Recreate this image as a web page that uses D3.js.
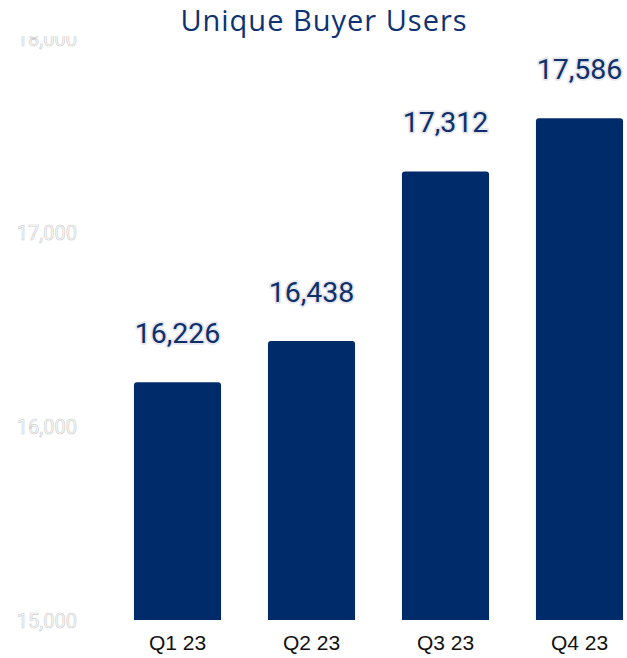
<!DOCTYPE html>
<html>
<head>
<meta charset="utf-8">
<script src="https://cdn.jsdelivr.net/npm/d3@7/dist/d3.min.js"></script>
<style>
  html, body { margin: 0; padding: 0; background: #ffffff; }
  svg { display: block; }
</style>
</head>
<body>
<div id="chart"></div>
<script>
// Quarterly unique buyer users
const quarters = ["Q1 23", "Q2 23", "Q3 23", "Q4 23"];
const buyers = [16226, 16438, 17312, 17586];
const yTicks = [15000, 16000, 17000, 18000];
const chartTitle = "Unique Buyer Users";

const width = 627, height = 658;
const barColor = "#002b6b";
const labelColor = "#0f2f6b";

const svg = d3.select("#chart").append("svg")
  .attr("width", width)
  .attr("height", height);

const x = d3.scaleBand()
  .domain(quarters)
  .range([110.5, 646.5])
  .paddingInner(0.35)
  .paddingOuter(0.175);

const y = d3.scaleLinear()
  .domain([15000, 18000])
  .range([620, 38]);

// y axis: white labels with a faint grey outline
const yAxis = svg.append("g")
  .attr("transform", "translate(77,0)")
  .call(d3.axisLeft(y).tickValues(yTicks).tickFormat(d3.format(",")).tickSize(0).tickPadding(0));
yAxis.select(".domain").remove();
yAxis.selectAll("text")
  .attr("font-family", "Roboto, sans-serif")
  .attr("font-size", 20)
  .attr("fill", "#ffffff")
  .attr("stroke", "#cfcfcf")
  .attr("stroke-width", 0.7)
  .attr("dy", "0.35em");

// title band sits above the axis labels
svg.append("rect")
  .attr("x", 0).attr("y", 0)
  .attr("width", width).attr("height", 36)
  .attr("fill", "#ffffff");

svg.append("text")
  .attr("x", 324)
  .attr("y", 31)
  .attr("text-anchor", "middle")
  .attr("font-family", "'Open Sans', 'Noto Sans', sans-serif")
  .attr("font-size", 29)
  .attr("font-weight", 500)
  .attr("letter-spacing", 1)
  .attr("fill", "#0f3272")
  .text(chartTitle);

// bars with slightly rounded top corners
const r = 3;
function barPath(d, i) {
  const x0 = x(quarters[i]), w = x.bandwidth();
  const y0 = y(d), y1 = y(15000);
  return `M${x0},${y1}V${y0 + r}Q${x0},${y0} ${x0 + r},${y0}H${x0 + w - r}Q${x0 + w},${y0} ${x0 + w},${y0 + r}V${y1}Z`;
}
svg.append("g").selectAll("path")
  .data(buyers)
  .join("path")
  .attr("d", barPath)
  .attr("fill", barColor);

// value labels with white halo
const fmt = d3.format(",");
svg.append("g").selectAll("text")
  .data(buyers)
  .join("text")
  .attr("x", (d, i) => x(quarters[i]) + x.bandwidth() / 2)
  .attr("y", d => y(d) - 39)
  .attr("text-anchor", "middle")
  .attr("font-family", "Roboto, sans-serif")
  .attr("font-size", 28.5)
  .attr("fill", labelColor)
  .attr("stroke", "#e4e7ee")
  .attr("stroke-width", 3.5)
  .attr("stroke-linejoin", "round")
  .attr("paint-order", "stroke")
  .text(d => fmt(d));

// x axis labels
const xAxis = svg.append("g")
  .attr("transform", "translate(0,620)")
  .call(d3.axisBottom(x).tickSize(0).tickPadding(15));
xAxis.select(".domain").remove();
xAxis.selectAll("text")
  .attr("font-family", "'Liberation Sans', Arial, sans-serif")
  .attr("font-size", 21)
  .attr("fill", "#111111");
</script>
</body>
</html>
